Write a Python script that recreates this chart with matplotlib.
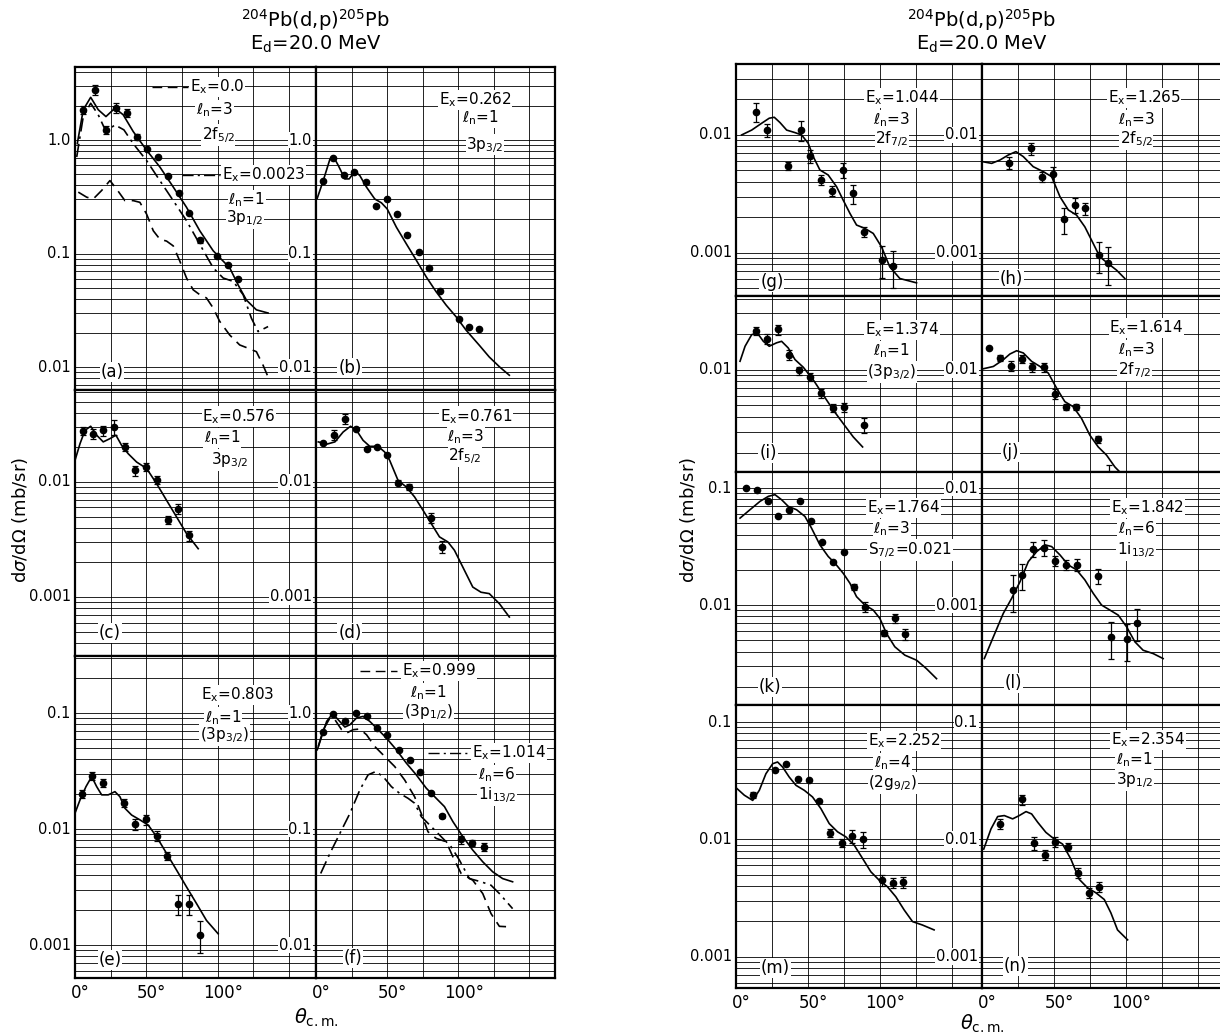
"""
204Pb(d,p)205Pb angular distributions at Ed = 20 MeV, panels (a)-(n).
"""
import matplotlib
matplotlib.use("Agg")
import matplotlib.pyplot as plt
import numpy as np
from matplotlib.ticker import LogLocator, MultipleLocator

W, H = 1220, 1033

# ---------------- data: theta (deg), dsigma/dOmega (mb/sr) ----------------
# (a) Ex = 0.0 / 0.0023 doublet
a_th = [5.8, 14.0, 21.7, 28.7, 36.2, 43.2, 50.7, 57.9, 65.4, 72.8, 80.1, 87.5, 99.7, 107.4, 114.4]
a_sig = [1.85, 2.78, 1.23, 1.91, 1.73, 1.07, 0.84, 0.71, 0.48, 0.34, 0.23, 0.131, 0.095, 0.080, 0.060]
a_err = [0.08, 0.1, 0.08, 0.1, 0.08, 0.06, 0, 0, 0, 0, 0, 0.05, 0, 0, 0]
a_sum_th = [1.6, 5.8, 11.0, 16.3, 21.7, 28.0, 33.8, 40.8, 50.2, 59.5, 68.9, 78.2, 87.5, 96.9, 102.7,
            108.5, 114.4, 120.2, 127.2, 135.4]
a_sum = [0.93, 1.85, 2.38, 1.85, 1.61, 1.91, 1.67, 1.19, 0.815, 0.58, 0.386, 0.256, 0.159, 0.106, 0.089,
         0.075, 0.053, 0.039, 0.032, 0.030]
a_p_th = [1.2, 5.8, 11.0, 16.3, 21.7, 28.0, 34.3, 40.8, 50.2, 59.5, 68.9, 78.2, 87.5, 96.9, 103.9,
          110.9, 117.9, 123.7, 128.4, 135.4]
a_p = [0.71, 1.61, 2.11, 1.67, 1.19, 1.36, 1.23, 0.93, 0.66, 0.44, 0.293, 0.195, 0.121, 0.075, 0.061,
       0.057, 0.0435, 0.027, 0.0206, 0.0228]
a_f_th = [2.3, 8.2, 12.8, 18.7, 24.5, 29.2, 35.0, 40.8, 45.5, 50.2, 54.9, 59.5, 64.2, 68.9, 73.5, 78.2,
          82.9, 87.5, 92.2, 96.9, 101.5, 108.5, 115.5, 121.4, 127.2, 131.9, 135.4]
a_f = [0.348, 0.314, 0.303, 0.36, 0.44, 0.37, 0.293, 0.293, 0.283, 0.223, 0.159, 0.134, 0.129, 0.117,
       0.086, 0.061, 0.048, 0.0435, 0.0407, 0.0332, 0.0253, 0.0192, 0.0157, 0.0147, 0.0137, 0.0104, 0.0082]

# (b) Ex = 0.262
b_th = [4.7, 12.1, 19.6, 26.8, 34.8, 42.0, 50.0, 57.2, 64.2, 72.1, 79.4, 87.5, 100.4, 107.4, 114.8]
b_sig = [0.44, 0.69, 0.49, 0.52, 0.43, 0.265, 0.30, 0.224, 0.145, 0.103, 0.075, 0.047, 0.0264, 0.0228, 0.0217]
b_err = [0] * 15
b_fit_th = [0.9, 5.1, 9.8, 12.1, 15.6, 20.3, 23.3, 27.3, 30.8, 35.5, 41.3, 46.0, 50.0, 56.5, 63.5, 70.5,
            77.5, 84.5, 91.5, 98.5, 105.5, 114.8, 121.8, 128.9, 135.9]
b_fit = [0.308, 0.44, 0.68, 0.72, 0.60, 0.455, 0.455, 0.53, 0.487, 0.385, 0.303, 0.28, 0.248, 0.171,
         0.122, 0.0875, 0.0624, 0.0461, 0.0352, 0.0278, 0.0212, 0.0156, 0.0123, 0.0101, 0.0085]

# (c) Ex = 0.576
c_th = [5.8, 12.4, 19.8, 27.3, 35.2, 42.3, 49.7, 57.7, 65.4, 71.9, 80.1]
c_sig = [0.0276, 0.0263, 0.0281, 0.0301, 0.0201, 0.0126, 0.0135, 0.0105, 0.0047, 0.00586, 0.00344]
c_err = [0.08, 0.1, 0.1, 0.15, 0.08, 0.1, 0.08, 0.08, 0.08, 0.1, 0.1]
c_fit_th = [0, 3.5, 7.0, 11.0, 15.2, 19.8, 24.5, 28.7, 32.7, 37.3, 43.2, 50.2, 57.2, 64.2, 71.2, 78.2, 86.4]
c_fit = [0.0154, 0.0215, 0.0281, 0.0305, 0.0255, 0.0223, 0.0238, 0.0255, 0.0208, 0.0176, 0.0149, 0.0131,
         0.00968, 0.00693, 0.00497, 0.00356, 0.00263]

# (d) Ex = 0.761
d_th = [5.1, 12.8, 20.3, 27.8, 35.5, 42.9, 50.0, 57.9, 65.4, 80.5, 88.5]
d_sig = [0.0220, 0.0255, 0.0351, 0.0287, 0.0195, 0.020, 0.0173, 0.00987, 0.00905, 0.0049, 0.00272]
d_err = [0, 0.1, 0.1, 0, 0, 0, 0, 0.05, 0.06, 0.1, 0.12]
d_fit_th = [1.6, 7.5, 13.3, 19.1, 24.3, 28.5, 33.1, 37.8, 43.7, 48.3, 51.8, 57.7, 63.5, 69.3, 75.2, 81.0,
            86.8, 92.7, 97.3, 103.2, 110.2, 116.0, 121.8, 128.9, 135.9]
d_fit = [0.0223, 0.0213, 0.0223, 0.0272, 0.0305, 0.0281, 0.0230, 0.0204, 0.0204, 0.0182, 0.0154, 0.0103,
         0.00905, 0.00741, 0.00568, 0.00435, 0.00333, 0.00301, 0.00255, 0.00182, 0.00122, 0.0011,
         0.00107, 0.000875, 0.00067]

# (e) Ex = 0.803
e_th = [4.7, 11.9, 19.8, 34.5, 42.0, 49.5, 57.2, 64.7, 72.4, 79.8, 87.5]
e_sig = [0.0201, 0.0287, 0.0248, 0.0167, 0.0110, 0.0121, 0.00875, 0.00585, 0.00225, 0.00225, 0.00123]
e_err = [0.08, 0.08, 0.08, 0.08, 0.1, 0.1, 0.1, 0.08, 0.2, 0.2, 0.3]
e_fit_th = [0, 3.5, 7.7, 11.7, 15.2, 18.7, 23.3, 28.0, 31.5, 35.0, 39.7, 45.5, 51.4, 57.2, 64.2, 71.2,
            78.2, 85.2, 92.2, 100.4]
e_fit = [0.0137, 0.0178, 0.0232, 0.0283, 0.0232, 0.0197, 0.0197, 0.021, 0.019, 0.0151, 0.0132, 0.0120,
         0.0108, 0.00859, 0.00617, 0.00443, 0.00317, 0.00228, 0.00163, 0.00125]

# (f) Ex = 0.999 / 1.014 doublet
f_th = [5.1, 12.1, 20.3, 27.8, 35.5, 42.9, 50.2, 58.1, 65.8, 73.3, 81.0, 88.7, 102.0, 109.7, 117.9]
f_sig = [0.69, 0.99, 0.85, 1.0, 0.935, 0.74, 0.65, 0.48, 0.395, 0.313, 0.203, 0.129, 0.0814, 0.0762, 0.0703]
f_err = [0, 0, 0, 0, 0, 0, 0, 0, 0, 0, 0, 0.04, 0.08, 0.06, 0.08]
f_sum_th = [0.9, 4.0, 7.5, 11.7, 15.6, 20.3, 23.8, 28.5, 33.1, 37.8, 43.7, 49.5, 56.5, 63.5, 70.5, 77.5,
            84.5, 90.3, 96.2, 103.2, 110.2, 117.2, 124.2, 131.2, 138.2]
f_sum = [0.482, 0.628, 0.847, 0.987, 0.875, 0.757, 0.792, 0.906, 0.935, 0.847, 0.718, 0.608, 0.482, 0.37,
         0.293, 0.225, 0.184, 0.156, 0.116, 0.0859, 0.0658, 0.0522, 0.0428, 0.0374, 0.0351]
f_p_th = [1.6, 5.1, 9.8, 13.3, 18.0, 21.5, 26.1, 30.8, 35.5, 41.3, 48.3, 55.3, 62.3, 69.3, 74.0, 78.7,
          84.5, 91.5, 96.2, 102.0, 110.2, 117.2, 123.0, 128.9, 138.2]
f_p = [0.515, 0.718, 0.906, 0.875, 0.718, 0.672, 0.718, 0.728, 0.65, 0.515, 0.422, 0.346, 0.265, 0.19,
       0.136, 0.0948, 0.083, 0.0777, 0.0577, 0.0414, 0.0362, 0.0278, 0.0187, 0.0145, 0.0143]
f_i_th = [3.3, 9.8, 16.8, 23.8, 30.8, 36.6, 42.0, 47.2, 53.0, 58.8, 64.7, 69.3, 74.0, 81.0, 88.0, 95.0,
          100.8, 107.8, 116.0, 123.0, 128.9, 138.2]
f_i = [0.0414, 0.0617, 0.0918, 0.136, 0.217, 0.293, 0.313, 0.283, 0.232, 0.203, 0.184, 0.167, 0.128,
       0.105, 0.0859, 0.0703, 0.054, 0.0374, 0.0351, 0.0328, 0.0278, 0.0206]

# (g) Ex = 1.044
g_th = [13.7, 21.3, 36.3, 44.9, 51.4, 59.0, 66.4, 74.1, 81.0, 88.9, 101.6, 109.3]
g_sig = [0.0158, 0.0110, 0.00548, 0.0110, 0.00663, 0.00415, 0.00337, 0.00504, 0.00319, 0.00151,
         0.000877, 0.000771]
g_err = [0.18, 0.12, 0.08, 0.2, 0.12, 0.1, 0.1, 0.15, 0.18, 0.1, 0.3, 0.35]
g_fit_th = [3.9, 10.9, 17.8, 23.1, 26.6, 30.6, 35.2, 41.0, 45.6, 50.2, 53.7, 58.3, 64.1, 69.9, 74.5, 79.2,
            83.8, 89.6, 95.4, 101.2, 106.9, 113.9, 125.5]
g_fit = [0.01, 0.0110, 0.01256, 0.01387, 0.01413, 0.01273, 0.0110, 0.01047, 0.01, 0.0085, 0.00655,
         0.00505, 0.00457, 0.00364, 0.0028, 0.00216, 0.00172, 0.00161, 0.00146, 0.00112, 0.00076,
         0.000605, 0.000556]

# (h) Ex = 1.265
h_th = [19.0, 33.8, 41.9, 49.1, 57.2, 64.6, 71.5, 81.2, 87.7]
h_sig = [0.00582, 0.0077, 0.00443, 0.00466, 0.00193, 0.00254, 0.00238, 0.000955, 0.000822]
h_err = [0.12, 0.12, 0.1, 0.15, 0.25, 0.15, 0.12, 0.3, 0.35]
h_fit_th = [0.5, 6.7, 12.5, 18.3, 23.6, 28.7, 35.6, 42.6, 48.4, 54.2, 60.0, 65.7, 71.5, 77.3, 81.9, 87.7,
            93.5, 99.3]
h_fit = [0.00593, 0.00574, 0.00613, 0.00676, 0.00722, 0.00655, 0.00538, 0.00488, 0.00443, 0.00299,
         0.00231, 0.00209, 0.00166, 0.0012, 0.000925, 0.00081, 0.000713, 0.000605]

# (i) Ex = 1.374
i_th = [13.9, 21.3, 28.9, 36.6, 44.0, 51.4, 59.3, 67.6, 75.2, 88.9]
i_sig = [0.0212, 0.0182, 0.0219, 0.0134, 0.00987, 0.00877, 0.00634, 0.00479, 0.00482, 0.00341]
i_err = [0.08, 0.1, 0.1, 0.1, 0.08, 0.08, 0.08, 0.08, 0.08, 0.15]
i_fit_th = [2.8, 6.3, 10.9, 14.8, 19.0, 23.1, 28.2, 31.7, 36.3, 41.0, 46.8, 53.7, 60.6, 67.6, 74.5, 81.5, 88.0]
i_fit = [0.0118, 0.0158, 0.0198, 0.0205, 0.0174, 0.0158, 0.0169, 0.0174, 0.0153, 0.0122, 0.0105, 0.00822,
         0.00614, 0.00457, 0.00352, 0.00271, 0.00223]

# (j) Ex = 1.614
j_th = [4.9, 12.5, 19.9, 27.5, 34.7, 43.1, 50.5, 58.1, 65.3, 80.6, 88.4]
j_sig = [0.0153, 0.01256, 0.0108, 0.0124, 0.01047, 0.01047, 0.00625, 0.00482, 0.00482, 0.00258, 0.0012]
j_err = [0, 0.06, 0.1, 0.08, 0.08, 0.08, 0.1, 0.06, 0.06, 0.06, 0.3]
j_fit_th = [0.9, 7.9, 14.8, 19.4, 24.1, 28.7, 34.5, 40.3, 46.1, 51.9, 57.6, 63.4, 69.2, 75.0, 80.8, 86.6,
            92.4, 99.3]
j_fit = [0.0102, 0.01067, 0.01216, 0.01359, 0.01449, 0.01387, 0.01178, 0.01067, 0.00937, 0.00698,
         0.00538, 0.00488, 0.00388, 0.0028, 0.00223, 0.0019, 0.00151, 0.00124]

# (k) Ex = 1.764
k_th = [6.7, 14.4, 22.0, 29.4, 37.0, 44.4, 52.1, 60.0, 67.6, 75.0, 81.9, 90.0, 102.8, 110.4, 117.8]
k_sig = [0.1, 0.0968, 0.0769, 0.0579, 0.0652, 0.0769, 0.0525, 0.0349, 0.0231, 0.0286, 0.01436, 0.00968,
         0.0058, 0.00769, 0.00564]
k_err = [0, 0, 0, 0, 0, 0, 0, 0, 0, 0, 0.06, 0.1, 0.06, 0.08, 0.1]
k_fit_th = [2.8, 9.7, 16.7, 22.5, 27.1, 31.7, 36.3, 42.1, 47.9, 52.5, 58.3, 64.1, 68.75, 74.5, 79.2, 83.8,
            89.6, 95.4, 100.0, 104.6, 110.4, 117.4, 125.5, 132.4, 139.4]
k_fit = [0.0553, 0.0652, 0.0769, 0.0849, 0.0877, 0.0794, 0.0697, 0.0652, 0.0572, 0.0454, 0.0327, 0.026,
         0.0228, 0.0187, 0.01535, 0.01179, 0.01, 0.00906, 0.00769, 0.00572, 0.0044, 0.00373, 0.00338,
         0.00286, 0.00235]

# (l) Ex = 1.842
l_th = [21.3, 27.5, 35.6, 43.3, 50.7, 58.3, 65.7, 80.8, 89.4, 100.5, 107.4]
l_sig = [0.00135, 0.0018, 0.00302, 0.0031, 0.0024, 0.0022, 0.0022, 0.00177, 0.000535, 0.000512, 0.000706]
l_err = [0.35, 0.25, 0.15, 0.15, 0.1, 0.1, 0.12, 0.15, 0.35, 0.35, 0.3]
l_fit_th = [1.6, 7.9, 14.8, 20.6, 26.4, 32.2, 38.0, 43.75, 48.4, 54.2, 60.0, 65.7, 71.5, 77.3, 83.1, 88.9,
            94.7, 100.5, 106.3, 112.0, 119.0, 125.9]
l_fit = [0.000349, 0.000535, 0.000849, 0.00114, 0.00158, 0.00235, 0.00286, 0.00327, 0.00316, 0.00268,
         0.0022, 0.002, 0.00164, 0.00126, 0.001, 0.000906, 0.00082, 0.000652, 0.000485, 0.000411,
         0.000385, 0.000349]

# (m) Ex = 2.252
m_th = [12.0, 27.1, 34.7, 42.8, 50.5, 57.9, 65.5, 73.4, 80.6, 88.4, 101.2, 108.8, 116.2]
m_sig = [0.0238, 0.0393, 0.0442, 0.0325, 0.0319, 0.0213, 0.01136, 0.00933, 0.01064, 0.01, 0.00449,
         0.00426, 0.0043]
m_err = [0.06, 0, 0, 0, 0, 0, 0.08, 0.08, 0.12, 0.15, 0.1, 0.1, 0.1]
m_fit_th = [0.7, 5.8, 11.6, 16.2, 20.8, 25.5, 28.9, 32.4, 37.0, 41.7, 47.5, 53.2, 59.0, 64.8, 70.6, 76.4,
            82.2, 88.0, 93.75, 99.5, 105.3, 111.1, 116.9, 122.7, 129.6, 137.7]
m_fit = [0.0271, 0.0238, 0.0215, 0.0262, 0.0363, 0.0442, 0.0457, 0.0414, 0.034, 0.0289, 0.0262, 0.023,
         0.0183, 0.01364, 0.0116, 0.0105, 0.00891, 0.00687, 0.00529, 0.00449, 0.00394, 0.00324, 0.0025,
         0.00199, 0.00186, 0.00169]

# (n) Ex = 2.354
n_th = [12.5, 27.5, 35.9, 43.75, 50.7, 59.5, 66.9, 74.1, 81.5]
n_sig = [0.01355, 0.0219, 0.00929, 0.00738, 0.00955, 0.00865, 0.0052, 0.0035, 0.00394]
n_err = [0.1, 0.1, 0.12, 0.1, 0.1, 0.08, 0.1, 0.1, 0.1]
n_fit_th = [1.2, 6.25, 10.9, 15.5, 21.3, 25.9, 30.6, 34.5, 38.7, 44.4, 50.2, 56.0, 61.8, 67.6, 73.4, 79.2,
            85.0, 89.6, 94.2, 101.2]
n_fit = [0.00826, 0.01228, 0.01567, 0.01596, 0.01496, 0.01596, 0.01726, 0.01648, 0.014, 0.01148, 0.01007,
         0.00912, 0.00678, 0.00456, 0.00386, 0.0035, 0.00307, 0.00236, 0.00169, 0.00139]

# ---------------- layout (pixel boxes: x0, x1, y0, y1) ----------------
LS = {"solid": "-", "dash": (0, (7, 4)), "dashdot": (0, (8, 3, 1.5, 3))}

PANELS = [
    dict(tag="(a)", box=(75, 316, 67, 390), ylim=(0.0063, 4.4), xmax=169, tagpos=(0.153, 0.056),
         pts=(a_th, a_sig, a_err),
         curves=[(a_sum_th, a_sum, "solid"), (a_p_th, a_p, "dashdot"), (a_f_th, a_f, "dash")],
         keys=[(0.32, 0.47, 0.938, "dash"), (0.444, 0.60, 0.666, "dashdot")],
         notes=[(0.477, 0.938, r"E$_\mathrm{x}$=0.0", "left"), (0.58, 0.867, r"ℓ$_\mathrm{n}$=3", "center"),
                (0.594, 0.79, r"2f$_{5/2}$", "center"), (0.61, 0.666, r"E$_\mathrm{x}$=0.0023", "left"),
                (0.713, 0.588, r"ℓ$_\mathrm{n}$=1", "center"), (0.705, 0.532, r"3p$_{1/2}$", "center")]),
    dict(tag="(b)", box=(316, 555, 67, 390), ylim=(0.0063, 4.4), xmax=168, tagpos=(0.142, 0.068),
         pts=(b_th, b_sig, b_err), curves=[(b_fit_th, b_fit, "solid")], keys=[],
         notes=[(0.665, 0.898, r"E$_\mathrm{x}$=0.262", "center"), (0.686, 0.842, r"ℓ$_\mathrm{n}$=1", "center"),
                (0.707, 0.76, r"3p$_{3/2}$", "center")]),
    dict(tag="(c)", box=(75, 316, 390, 656), ylim=(0.000307, 0.063), xmax=169, tagpos=(0.145, 0.086),
         pts=(c_th, c_sig, c_err), curves=[(c_fit_th, c_fit, "solid")], keys=[],
         notes=[(0.68, 0.90, r"E$_\mathrm{x}$=0.576", "center"), (0.61, 0.82, r"ℓ$_\mathrm{n}$=1", "center"),
                (0.64, 0.737, r"3p$_{3/2}$", "center")]),
    dict(tag="(d)", box=(316, 555, 390, 656), ylim=(0.000307, 0.063), xmax=168, tagpos=(0.142, 0.086),
         pts=(d_th, d_sig, d_err), curves=[(d_fit_th, d_fit, "solid")], keys=[],
         notes=[(0.67, 0.90, r"E$_\mathrm{x}$=0.761", "center"), (0.627, 0.823, r"ℓ$_\mathrm{n}$=3", "center"),
                (0.623, 0.75, r"2f$_{5/2}$", "center")]),
    dict(tag="(e)", box=(75, 316, 656, 978), ylim=(0.00052, 0.31), xmax=169, tagpos=(0.145, 0.056),
         pts=(e_th, e_sig, e_err), curves=[(e_fit_th, e_fit, "solid")], keys=[], xlabels=True,
         notes=[(0.677, 0.879, r"E$_\mathrm{x}$=0.803", "center"), (0.615, 0.81, r"ℓ$_\mathrm{n}$=1", "center"),
                (0.62, 0.755, r"(3p$_{3/2}$)", "center")]),
    dict(tag="(f)", box=(316, 555, 656, 978), ylim=(0.0052, 3.1), xmax=168, tagpos=(0.155, 0.062),
         pts=(f_th, f_sig, f_err), xlabels=True,
         curves=[(f_sum_th, f_sum, "solid"), (f_p_th, f_p, "dash"), (f_i_th, f_i, "dashdot")],
         keys=[(0.185, 0.34, 0.953, "dash"), (0.47, 0.645, 0.699, "dashdot")],
         notes=[(0.36, 0.953, r"E$_\mathrm{x}$=0.999", "left"), (0.47, 0.885, r"ℓ$_\mathrm{n}$=1", "center"),
                (0.47, 0.826, r"(3p$_{1/2}$)", "center"), (0.653, 0.699, r"E$_\mathrm{x}$=1.014", "left"),
                (0.757, 0.63, r"ℓ$_\mathrm{n}$=6", "center"), (0.757, 0.568, r"1i$_{13/2}$", "center")]),
    dict(tag="(g)", box=(736, 982, 64, 296), ylim=(0.00043, 0.040), xmax=171, tagpos=(0.146, 0.06),
         pts=(g_th, g_sig, g_err), curves=[(g_fit_th, g_fit, "solid")], keys=[],
         notes=[(0.675, 0.853, r"E$_\mathrm{x}$=1.044", "center"), (0.634, 0.759, r"ℓ$_\mathrm{n}$=3", "center"),
                (0.634, 0.677, r"2f$_{7/2}$", "center")]),
    dict(tag="(h)", box=(982, 1228, 64, 296), ylim=(0.00043, 0.040), xmax=171, tagpos=(0.12, 0.075),
         pts=(h_th, h_sig, h_err), curves=[(h_fit_th, h_fit, "solid")], keys=[],
         notes=[(0.66, 0.853, r"E$_\mathrm{x}$=1.265", "center"), (0.627, 0.759, r"ℓ$_\mathrm{n}$=3", "center"),
                (0.627, 0.677, r"2f$_{5/2}$", "center")]),
    dict(tag="(i)", box=(736, 982, 296, 472), ylim=(0.00137, 0.042), xmax=171, tagpos=(0.13, 0.108),
         pts=(i_th, i_sig, i_err), curves=[(i_fit_th, i_fit, "solid")], keys=[],
         notes=[(0.675, 0.807, r"E$_\mathrm{x}$=1.374", "center"), (0.63, 0.688, r"ℓ$_\mathrm{n}$=1", "center"),
                (0.634, 0.568, r"(3p$_{3/2}$)", "center")]),
    dict(tag="(j)", box=(982, 1228, 296, 472), ylim=(0.00137, 0.042), xmax=171, tagpos=(0.115, 0.114),
         pts=(j_th, j_sig, j_err), curves=[(j_fit_th, j_fit, "solid")], keys=[],
         notes=[(0.668, 0.818, r"E$_\mathrm{x}$=1.614", "center"), (0.627, 0.693, r"ℓ$_\mathrm{n}$=3", "center"),
                (0.62, 0.58, r"2f$_{7/2}$", "center")]),
    dict(tag="(k)", box=(736, 982, 472, 705), ylim=(0.0014, 0.137), xmax=171, tagpos=(0.138, 0.077),
         pts=(k_th, k_sig, k_err), curves=[(k_fit_th, k_fit, "solid")], keys=[],
         notes=[(0.68, 0.845, r"E$_\mathrm{x}$=1.764", "center"), (0.634, 0.755, r"ℓ$_\mathrm{n}$=3", "center"),
                (0.707, 0.665, r"S$_{7/2}$=0.021", "center")]),
    dict(tag="(l)", box=(982, 1228, 472, 705), ylim=(0.00014, 0.0137), xmax=171, tagpos=(0.127, 0.094),
         pts=(l_th, l_sig, l_err), curves=[(l_fit_th, l_fit, "solid")], keys=[],
         notes=[(0.672, 0.845, r"E$_\mathrm{x}$=1.842", "center"), (0.627, 0.755, r"ℓ$_\mathrm{n}$=6", "center"),
                (0.627, 0.665, r"1i$_{13/2}$", "center")]),
    dict(tag="(m)", box=(736, 982, 705, 988), ylim=(0.00054, 0.14), xmax=171, tagpos=(0.159, 0.07),
         pts=(m_th, m_sig, m_err), curves=[(m_fit_th, m_fit, "solid")], keys=[], xlabels=True,
         notes=[(0.683, 0.873, r"E$_\mathrm{x}$=2.252", "center"), (0.638, 0.795, r"ℓ$_\mathrm{n}$=4", "center"),
                (0.638, 0.724, r"(2g$_{9/2}$)", "center")]),
    dict(tag="(n)", box=(982, 1228, 705, 988), ylim=(0.00054, 0.14), xmax=171, tagpos=(0.135, 0.078),
         pts=(n_th, n_sig, n_err), curves=[(n_fit_th, n_fit, "solid")], keys=[], xlabels=True,
         notes=[(0.676, 0.876, r"E$_\mathrm{x}$=2.354", "center"), (0.62, 0.806, r"ℓ$_\mathrm{n}$=1", "center"),
                (0.62, 0.735, r"3p$_{1/2}$", "center")]),
]

WHITE = dict(facecolor="white", edgecolor="none", pad=0.6)
FS = 11


def decade_label(v):
    return "1.0" if v == 1 else f"{v:g}"


def draw_panel(fig, p):
    x0, x1, y0, y1 = p["box"]
    ax = fig.add_axes([x0 / W, 1 - y1 / H, (x1 - x0) / W, (y1 - y0) / H])
    ax.set_yscale("log")
    ax.set_xlim(0, p["xmax"])
    ax.set_ylim(*p["ylim"])
    ax.xaxis.set_major_locator(MultipleLocator(25))
    ax.yaxis.set_major_locator(LogLocator(base=10, numticks=12))
    ax.yaxis.set_minor_locator(LogLocator(base=10, subs=np.arange(2, 10), numticks=40))
    ax.grid(True, which="both", axis="y", color="black", lw=0.6)
    ax.grid(True, which="major", axis="x", color="black", lw=0.6)
    ax.set_axisbelow(True)
    ax.tick_params(which="both", length=0, labelleft=False, labelbottom=False)
    for s in ax.spines.values():
        s.set_linewidth(1.6)

    # decade labels, drawn just left of the panel on a white patch
    lo, hi = p["ylim"]
    for e in range(int(np.ceil(np.log10(lo))), int(np.floor(np.log10(hi))) + 1):
        v = 10.0 ** e
        ax.annotate(decade_label(v), xy=(0, v), xycoords=ax.get_yaxis_transform(),
                    xytext=(-3, 0), textcoords="offset points", ha="right", va="center",
                    fontsize=10.5, bbox=WHITE, zorder=10)

    if p.get("xlabels"):
        for v in (0, 50, 100):
            ax.annotate(f"{v}°", xy=(v, 0), xycoords=ax.get_xaxis_transform(),
                        xytext=(4, -4), textcoords="offset points", ha="center", va="top",
                        fontsize=12)

    for th, sig, style in p["curves"]:
        ax.plot(th, sig, color="black", lw=1.2, ls=LS[style], zorder=3)

    th, sig, err = (np.array(a, dtype=float) for a in p["pts"])
    has = err > 0
    ax.errorbar(th[has], sig[has], yerr=sig[has] * err[has], fmt="o", ms=4.5, color="black",
                elinewidth=0.9, capsize=2.2, capthick=0.9, zorder=4)
    ax.plot(th[~has], sig[~has], "o", ms=4.5, color="black", zorder=4)

    for kx0, kx1, ky, style in p["keys"]:
        ax.plot([kx0, kx1], [ky, ky], transform=ax.transAxes, color="black", lw=1.0,
                ls=LS[style], zorder=6)
    for tx, ty, txt, ha in p["notes"]:
        ax.text(tx, ty, txt, transform=ax.transAxes, ha=ha, va="center", fontsize=FS,
                bbox=WHITE, zorder=7)
    ax.text(*p["tagpos"], p["tag"], transform=ax.transAxes, ha="center", va="center",
            fontsize=12, bbox=WHITE, zorder=7)
    return ax


fig = plt.figure(figsize=(W / 100, H / 100), dpi=100)
for p in PANELS:
    draw_panel(fig, p)

# titles and axis names for the two halves
for cx, tx_y, yl_x in ((316, 1018, 20), (982, 1024, 688)):
    fig.text(cx / W, 1 - 20 / H, r"$^{204}$Pb(d,p)$^{205}$Pb", ha="center", va="center", fontsize=14)
    fig.text(cx / W, 1 - 44 / H, r"E$_\mathrm{d}$=20.0 MeV", ha="center", va="center", fontsize=14)
    fig.text(cx / W, 1 - tx_y / H, r"$\theta_\mathrm{c.m.}$", ha="center", va="center", fontsize=14)
    fig.text(yl_x / W, 1 - 520 / H, r"d$\sigma$/d$\Omega$ (mb/sr)", ha="center", va="center",
             rotation=90, fontsize=13)

fig.savefig("out.png", dpi=100, facecolor="white")
print("Saved out.png")
